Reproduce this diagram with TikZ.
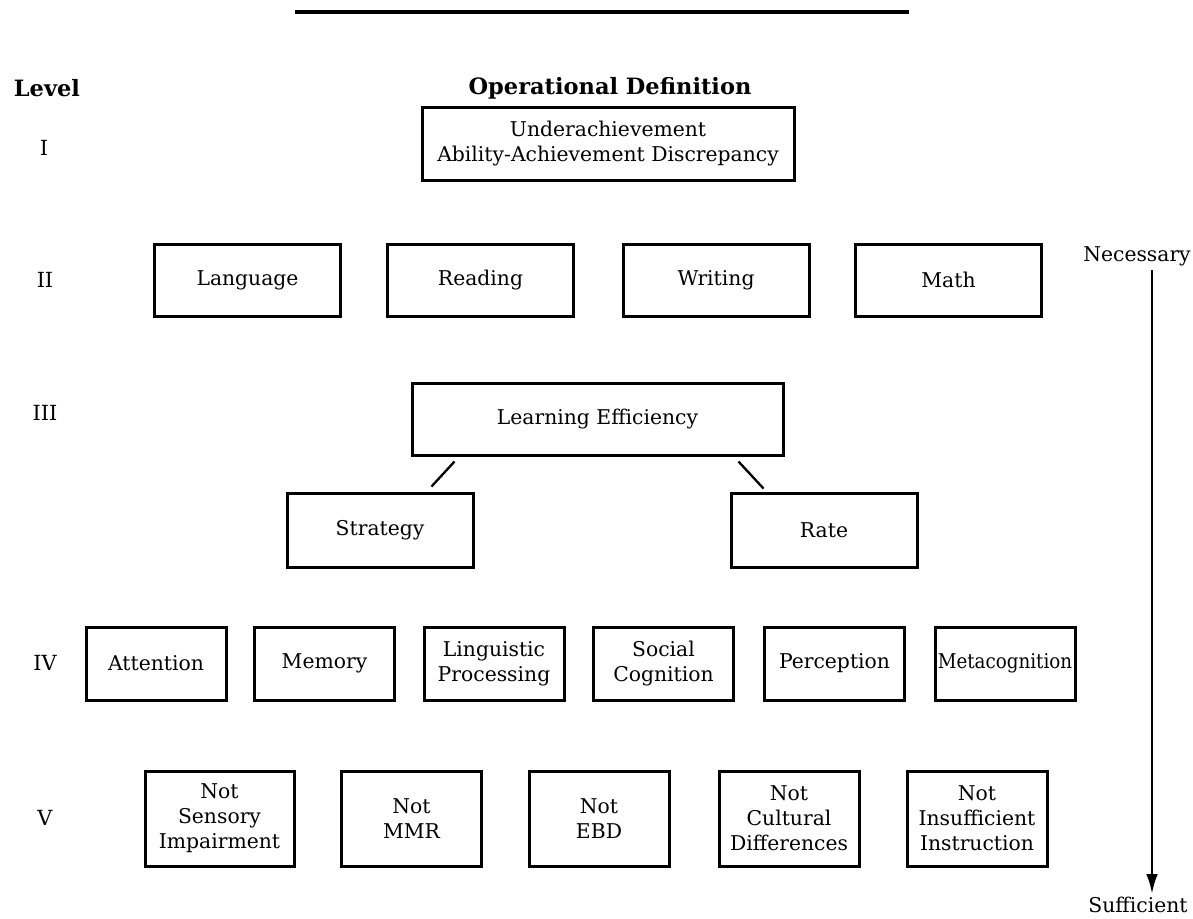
\documentclass[tikz,border=0pt]{standalone}
\usepackage{fontspec}
\usepackage{graphicx}
\setmainfont{DejaVu Serif}
\usetikzlibrary{arrows.meta, calc}

\begin{document}
\begin{tikzpicture}[
    x=0.6pt, y=-0.6pt,
    font=\fontsize{12.2}{15}\selectfont,
    defbox/.style={draw, line width=1.8pt, align=center, inner sep=0pt},
    sz/.style 2 args={minimum width=#1*0.6pt, minimum height=#2*0.6pt},
    lvl/.style={font=\fontsize{12.5}{15}\selectfont},
    head/.style={font=\fontsize{13.5}{15}\selectfont\bfseries},
    link/.style={line width=1.4pt}
  ]

  \useasboundingbox (0,0) rectangle (1193,918);

  % ==================== HEADINGS ====================

  \draw[line width=2pt] (295,12) -- (909,12);

  \node[head, anchor=west] (Level) at (8,88) {Level};
  \node[head] (OpDef) at (610,88) {Operational Definition};

  \node[lvl] (LvI)   at (44,148) {I};
  \node[lvl] (LvII)  at (45,280) {II};
  \node[lvl] (LvIII) at (45,413) {III};
  \node[lvl] (LvIV)  at (45,663) {IV};
  \node[lvl] (LvV)   at (45,818) {V};

  % ==================== LEVEL I ====================

  \node[defbox, sz={372}{73}] (Underach) at (608,143.5)
    {Underachievement\\Ability-Achievement Discrepancy};

  % ==================== LEVEL II ====================

  \node[defbox, sz={186}{72}] (Language) at (247.5,280) {Language};
  \node[defbox, sz={186}{72}] (Reading)  at (480.5,280) {Reading};
  \node[defbox, sz={186}{72}] (Writing)  at (716,280)   {Writing};
  \node[defbox, sz={186}{72}] (Math)     at (948.5,280) {Math};

  % ==================== LEVEL III ====================

  \node[defbox, sz={371}{72}] (Efficiency) at (597.5,419) {Learning Efficiency};
  \node[defbox, sz={186}{74}] (Strategy)   at (380,530)   {Strategy};
  \node[defbox, sz={186}{74}] (Rate)       at (824,530)   {Rate};

  \draw[link] ($(Efficiency.south west)+(44,5)$) -- ($(Strategy.north east)+(-43,-5)$);
  \draw[link] ($(Efficiency.south east)+(-46,5)$) -- ($(Rate.north west)+(34,-3)$);

  % ==================== LEVEL IV ====================

  \node[defbox, sz={140}{73}] (Attention) at (156,663.5)    {Attention};
  \node[defbox, sz={140}{73}] (Memory)    at (324.5,663.5)  {Memory};
  \node[defbox, sz={140}{73}] (Linguistic) at (494,663.5)   {Linguistic\\Processing};
  \node[defbox, sz={140}{73}] (Social)    at (663.5,663.5)  {Social\\Cognition};
  \node[defbox, sz={140}{73}] (Perception) at (834.5,663.5) {Perception};
  % squeezed sideways so the word stays inside its box
  \node[defbox, sz={140}{73}] (Metacog) at (1005,663.5) {\scalebox{0.9}[1]{Metacognition}};

  % ==================== LEVEL V ====================

  \node[defbox, sz={149}{95}] (Sensory)  at (219.5,818.5) {Not\\Sensory\\Impairment};
  \node[defbox, sz={140}{95}] (MMR)      at (411.5,818.5) {Not\\MMR};
  \node[defbox, sz={140}{95}] (EBD)      at (599,818.5)   {Not\\EBD};
  \node[defbox, sz={140}{95}] (Cultural) at (789,818.5)   {Not\\Cultural\\Differences};
  \node[defbox, sz={140}{95}] (Instruct) at (977,818.5)   {Not\\Insufficient\\Instruction};

  % ==================== NECESSARY -> SUFFICIENT ====================

  \node (Necessary)  at (1137,256) {Necessary};
  \node (Sufficient) at (1138,905) {Sufficient};

  \coordinate (ArrTop) at (1152,270);
  \coordinate (ArrBot) at (1152,894);
  \draw[line width=1.6pt, -{Latex[length=12pt, width=7pt]}] (ArrTop) -- (ArrBot);

\end{tikzpicture}
\end{document}
